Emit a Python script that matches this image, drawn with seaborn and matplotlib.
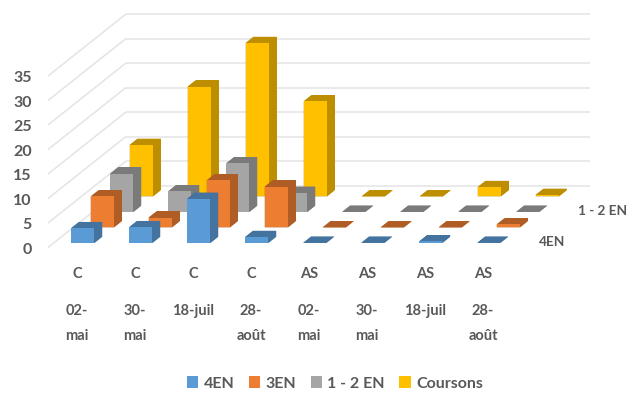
import numpy as np
import matplotlib
matplotlib.use("Agg")
import matplotlib.pyplot as plt
from matplotlib.patches import Patch
from mpl_toolkits.mplot3d import Axes3D, proj3d  # noqa: F401
from mpl_toolkits.mplot3d.art3d import Line3DCollection
import seaborn as sns

# Survey data: one list per larval stage, eight sampling dates
sites = ["C", "C", "C", "C", "AS", "AS", "AS", "AS"]
dates = ["02-\nmai", "30-\nmai", "18-juil", "28-\naoût",
         "02-\nmai", "30-\nmai", "18-juil", "28-\naoût"]
stage_names = ["4EN", "3EN", "1 - 2 EN", "Coursons"]
stage_4en = [3.0, 3.2, 9.0, 1.2, 0, 0, 0.3, 0]
stage_3en = [6.3, 2.0, 9.6, 8.3, 0, 0, 0, 0.6]
stage_12en = [7.8, 4.2, 9.9, 3.9, 0, 0, 0, 0]
coursons = [10.5, 22.4, 31.3, 19.4, 0, 0, 1.9, 0.3]
value_ticks = [0, 5, 10, 15, 20, 25, 30, 35]
labelled_rows = {0: "4EN", 2: "1 - 2 EN"}

series = [stage_4en, stage_3en, stage_12en, coursons]

sns.set_theme(style="white")
plt.rcParams["font.family"] = ["Lato", "DejaVu Sans"]
palette = sns.color_palette(["#5B9BD5", "#ED7D31", "#A5A5A5", "#FFC000"])
TEXT = "#595959"
GRID = "#E4E4E4"

W, H = 629, 394
fig = plt.figure(figsize=(W / 100, H / 100), dpi=100, facecolor="white")
ax = fig.add_axes([0, 0, 1, 1], projection="3d")
ax.set_axis_off()
ax.computed_zorder = False
ax.set_xticks([])
ax.set_yticks([])
ax.set_zticks([])

# Oblique cabinet projection: column axis horizontal, depth axis diagonal,
# value axis vertical. The output is expressed in figure pixels.
PROJ = np.array([
    [58.0, 19.5, 0.0, 48.0],
    [0.0, -15.5, -4.9, 247.5],
    [-0.1, 1.0, -0.01, 0.0],
    [0.0, 0.0, 0.0, 1.0],
])
ax.get_proj = lambda: PROJ
ax.apply_aspect = lambda position=None: None
ax.viewLim.intervalx = (0, W)
ax.viewLim.intervaly = (H, 0)


def label(x, y, z, s, **kw):
    """Place a flat text label at a projected position of the 3D scene."""
    px, py, _ = proj3d.proj_transform(x, y, z, PROJ)
    ax.annotate(s, xy=(px, py), xycoords="data", annotation_clip=False,
                color=TEXT, fontweight="bold", zorder=100, **kw)


n_cols = len(sites)
n_rows = len(series)

# Back wall and side wall gridlines
segments = []
for v in value_ticks:
    segments.append([(0, 0, v), (0, n_rows, v)])
    segments.append([(0, n_rows, v), (n_cols, n_rows, v)])
ax.add_collection3d(Line3DCollection(segments, colors=GRID, linewidths=1.1, zorder=1))

# Columns, painted from the back row to the front row
BAR_W, BAR_D = 0.40, 0.40
for r in range(n_rows - 1, -1, -1):
    base = np.array(palette[r])
    shade = tuple(base * 0.74)
    faces = [shade, shade, tuple(base), shade, shade, shade]
    for c, val in enumerate(series[r]):
        ax.bar3d(c + 0.3, r + 0.3, 0, BAR_W, BAR_D, val, color=faces,
                 shade=False, edgecolor="none", linewidth=0,
                 zorder=10 + (n_rows - r) * 10 + c)

# Value axis labels
for v in value_ticks:
    label(-0.28, 0, v - 0.5, str(v), ha="right", va="center", fontsize=11.5)

# Two-level category labels below the floor
for c, (site, date) in enumerate(zip(sites, dates)):
    label(c + 0.5, 0, -5.5, site, ha="center", va="center", fontsize=10.5)
    label(c + 0.5, 0, -11.6, date, ha="center", va="top", fontsize=10.5,
          linespacing=1.95)

# Depth axis labels
for r, name in labelled_rows.items():
    label(n_cols + 0.3, r + 0.5, -0.4, name, ha="left", va="center", fontsize=9.8)

handles = [Patch(facecolor=palette[i], edgecolor="none", label=stage_names[i])
           for i in range(n_rows)]
leg = fig.legend(handles=handles, loc="center", bbox_to_anchor=(335 / W, 1 - 383.5 / H),
                 ncol=4, frameon=False, handlelength=0.7, handleheight=0.7,
                 handletextpad=0.35, columnspacing=0.9,
                 prop={"size": 11.5, "weight": "bold"})
for t in leg.get_texts():
    t.set_color(TEXT)

fig.savefig("out.png", dpi=100, facecolor="white")
